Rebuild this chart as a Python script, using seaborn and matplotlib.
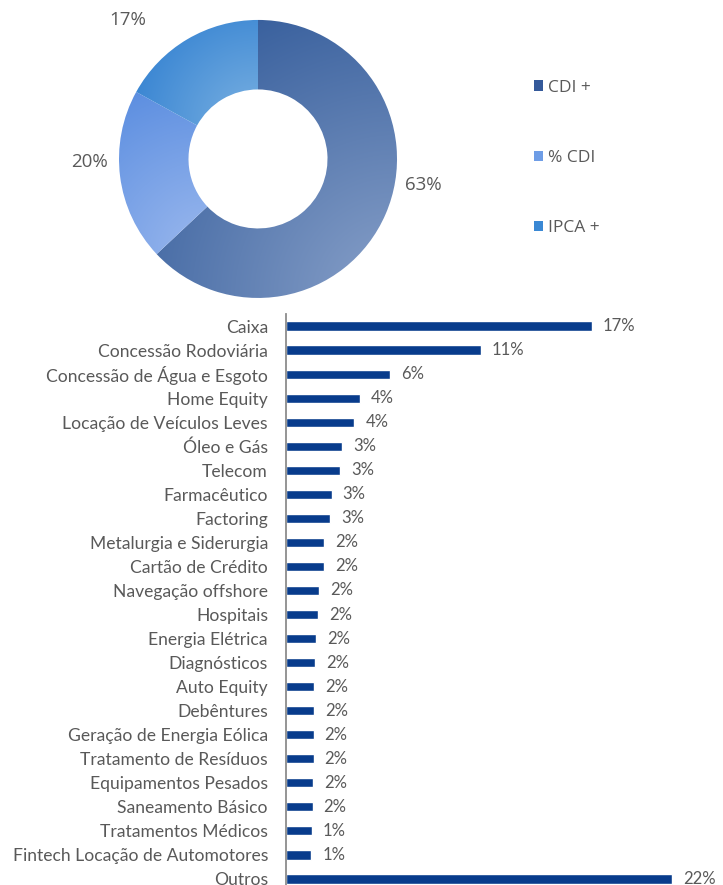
import numpy as np
import pandas as pd
import matplotlib
matplotlib.use("Agg")
import matplotlib.pyplot as plt
from matplotlib.patches import Patch
from matplotlib.colors import to_rgb
import seaborn as sns

# donut data
idx_names = ['CDI +', '% CDI', 'IPCA +']
idx_values = [63, 20, 17]
idx_labels = ['63%', '20%', '17%']

# sector data
sectors = ['Caixa', 'Concessão Rodoviária', 'Concessão de Água e Esgoto', 'Home Equity',
           'Locação de Veículos Leves', 'Óleo e Gás', 'Telecom', 'Farmacêutico', 'Factoring',
           'Metalurgia e Siderurgia', 'Cartão de Crédito', 'Navegação offshore', 'Hospitais',
           'Energia Elétrica', 'Diagnósticos', 'Auto Equity', 'Debêntures',
           'Geração de Energia Eólica', 'Tratamento de Resíduos', 'Equipamentos Pesados',
           'Saneamento Básico', 'Tratamentos Médicos', 'Fintech Locação de Automotores', 'Outros']
sector_values = [17.4, 11.1, 5.9, 4.2, 3.9, 3.2, 3.1, 2.6, 2.5, 2.15, 2.15, 1.9, 1.8, 1.72,
                 1.63, 1.6, 1.6, 1.57, 1.57, 1.52, 1.51, 1.47, 1.45, 22.0]
sector_labels = ['17%', '11%', '6%', '4%', '4%', '3%', '3%', '3%', '3%', '2%', '2%', '2%', '2%',
                 '2%', '2%', '2%', '2%', '2%', '2%', '2%', '2%', '1%', '1%', '22%']

TEXT = '#595959'
BAR = '#083c8c'
grad_dark = ['#2b5596', '#5a8de0', '#2a7bcf']
grad_light = ['#8aa2ca', '#9cb9ee', '#7cb2e2']
legend_colors = ['#34599a', '#6e9de6', '#3a88d4']

sns.set_style("white")
plt.rcParams['font.family'] = ['Lato', 'DejaVu Sans']

fig = plt.figure(figsize=(7.23, 8.85), dpi=100)

# ---- donut ----
ax_pie = fig.add_axes([0.1069, 0.6162, 0.4999, 0.4084])
wedges, _ = ax_pie.pie(idx_values, startangle=90, counterclock=False, radius=1,
                       wedgeprops=dict(width=0.5, edgecolor='none', linewidth=0))
ax_pie.set_xlim(-1.3, 1.3)
ax_pie.set_ylim(-1.3, 1.3)
ax_pie.set_aspect('equal')
ax_pie.axis('off')

n = 500
gx, gy = np.meshgrid(np.linspace(-1, 1, n), np.linspace(-1, 1, n))
for w, c0, c1 in zip(wedges, grad_dark, grad_light):
    w.set_facecolor('none')
    t1, t2 = np.deg2rad(w.theta1), np.deg2rad(w.theta2)
    th = np.linspace(t1, t2, 200)
    px = np.concatenate([np.cos(th), 0.5 * np.cos(th)])
    py = np.concatenate([np.sin(th), 0.5 * np.sin(th)])
    cx, cy = px.max(), py.min()
    diag = np.hypot(px.max() - px.min(), py.max() - py.min())
    d = np.hypot(gx - cx, gy - cy) / diag
    t = np.clip(1 - d, 0, 1)[..., None]
    img = np.array(to_rgb(c0)) + t * (np.array(to_rgb(c1)) - np.array(to_rgb(c0)))
    im = ax_pie.imshow(img, extent=(-1, 1, -1, 1), origin='lower', zorder=1)
    im.set_clip_path(w)
    w.set_zorder(2)

label_pos = [(1.19, -0.19), (-1.21, -0.02), (-0.94, 1.0)]
for (lx, ly), lab in zip(label_pos, idx_labels):
    ax_pie.text(lx, ly, lab, ha='center', va='center', fontsize=13.5, color=TEXT,
                family=['Open Sans', 'DejaVu Sans'])

handles = [Patch(facecolor=c, edgecolor='none') for c in legend_colors]
fig.legend(handles, idx_names, loc='center left', bbox_to_anchor=(0.738, 1 - 158 / 885),
           frameon=False, labelspacing=3.12, handlelength=0.55,
           handleheight=0.55, handletextpad=0.3, borderpad=0, borderaxespad=0,
           labelcolor=TEXT, prop={'family': ['Open Sans', 'DejaVu Sans'], 'size': 12.5})

# ---- bars ----
df = pd.DataFrame({'Setor': sectors, 'Valor': sector_values})
ax = fig.add_axes([286 / 723, -0.0068, 437 / 723, 0.652])
sns.barplot(data=df, y='Setor', x='Valor', orient='h', color=BAR, width=0.38,
            saturation=1, ax=ax)
ax.set_xlim(0, 437 / 17.56)
ax.set_ylim(23.5, -0.5)
ax.bar_label(ax.containers[0], labels=sector_labels, padding=8, fontsize=12, color=TEXT)
ax.set_xlabel('')
ax.set_ylabel('')
ax.set_xticks([])
ax.tick_params(axis='y', length=0, pad=13, labelsize=12.6, labelcolor=TEXT)
for s in ['top', 'right', 'bottom']:
    ax.spines[s].set_visible(False)
ax.spines['left'].set_color('#8c8c8c')
ax.spines['left'].set_linewidth(1.3)

fig.savefig('out.png', dpi=100)
